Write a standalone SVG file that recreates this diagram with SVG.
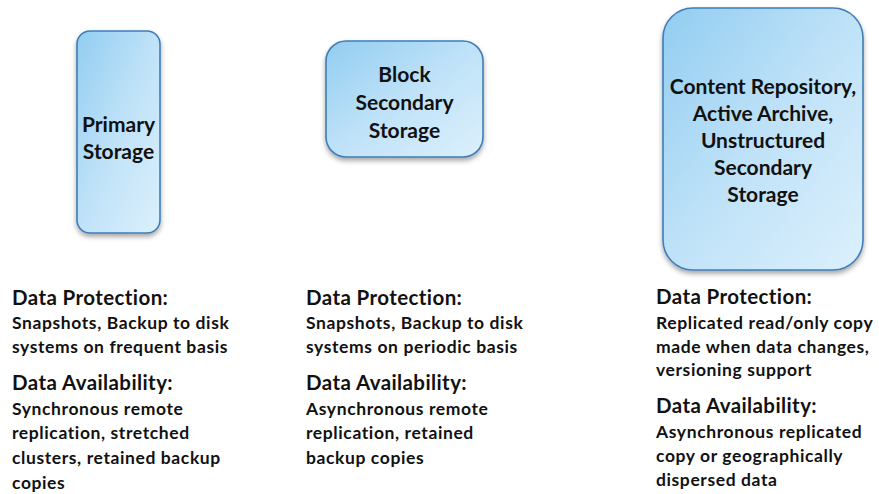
<svg xmlns="http://www.w3.org/2000/svg" width="879" height="494" viewBox="0 0 879 494">
<style>
.box{stroke:#3f7db7;stroke-width:1.6;fill:url(#g)}
.bt{font-family:Lato,"Open Sans",sans-serif;font-weight:bold;font-size:21px;fill:#111;text-anchor:middle}
.h{font-family:Lato,"Open Sans",sans-serif;font-weight:bold;font-size:20.5px;letter-spacing:0.4px;fill:#111}
.b{font-family:Lato,"Open Sans",sans-serif;font-weight:bold;font-size:17.5px;letter-spacing:0.6px;fill:#111}
</style>
<defs>
<linearGradient id="g" x1="0" y1="0" x2="1" y2="1">
<stop offset="0" stop-color="#92cdf1"/>
<stop offset="0.5" stop-color="#bfe2f8"/>
<stop offset="1" stop-color="#dcf0fc"/>
</linearGradient>
<filter id="sh" x="-20%" y="-20%" width="140%" height="140%">
<feDropShadow dx="0" dy="3" stdDeviation="2.5" flood-color="#000" flood-opacity="0.35"/>
</filter>
</defs>
<g id="connectors"/>
<g id="primary">
<rect class="box" x="77" y="31" width="83" height="202" rx="13" filter="url(#sh)"/>
<text class="bt" x="118.5" y="132">Primary</text>
<text class="bt" x="118.5" y="159">Storage</text>
</g>
<g id="block">
<rect class="box" x="326" y="41" width="157" height="116" rx="20" filter="url(#sh)"/>
<text class="bt" x="404.5" y="82">Block</text>
<text class="bt" x="404.5" y="110">Secondary</text>
<text class="bt" x="404.5" y="138">Storage</text>
</g>
<g id="content">
<rect class="box" x="663" y="8" width="200" height="262" rx="30" filter="url(#sh)"/>
<text class="bt" x="763" y="94">Content Repository,</text>
<text class="bt" x="763" y="121">Active Archive,</text>
<text class="bt" x="763" y="148">Unstructured</text>
<text class="bt" x="763" y="175">Secondary</text>
<text class="bt" x="763" y="202">Storage</text>
</g>
<g id="col1">
<text class="h" x="12" y="305">Data Protection:</text>
<text class="b" x="12" y="329">Snapshots, Backup to disk</text>
<text class="b" x="12" y="353">systems on frequent basis</text>
<text class="h" x="12" y="390">Data Availability:</text>
<text class="b" x="12" y="415">Synchronous remote</text>
<text class="b" x="12" y="439">replication, stretched</text>
<text class="b" x="12" y="464">clusters, retained backup</text>
<text class="b" x="12" y="489">copies</text>
</g>
<g id="col2">
<text class="h" x="306" y="305">Data Protection:</text>
<text class="b" x="306" y="329">Snapshots, Backup to disk</text>
<text class="b" x="306" y="353">systems on periodic basis</text>
<text class="h" x="306" y="390">Data Availability:</text>
<text class="b" x="306" y="415">Asynchronous remote</text>
<text class="b" x="306" y="439">replication, retained</text>
<text class="b" x="306" y="464">backup copies</text>
</g>
<g id="col3">
<text class="h" x="656" y="304">Data Protection:</text>
<text class="b" x="656" y="329">Replicated read/only copy</text>
<text class="b" x="656" y="353">made when data changes,</text>
<text class="b" x="656" y="376">versioning support</text>
<text class="h" x="656" y="413">Data Availability:</text>
<text class="b" x="656" y="438">Asynchronous replicated</text>
<text class="b" x="656" y="462">copy or geographically</text>
<text class="b" x="656" y="486">dispersed data</text>
</g>
</svg>
